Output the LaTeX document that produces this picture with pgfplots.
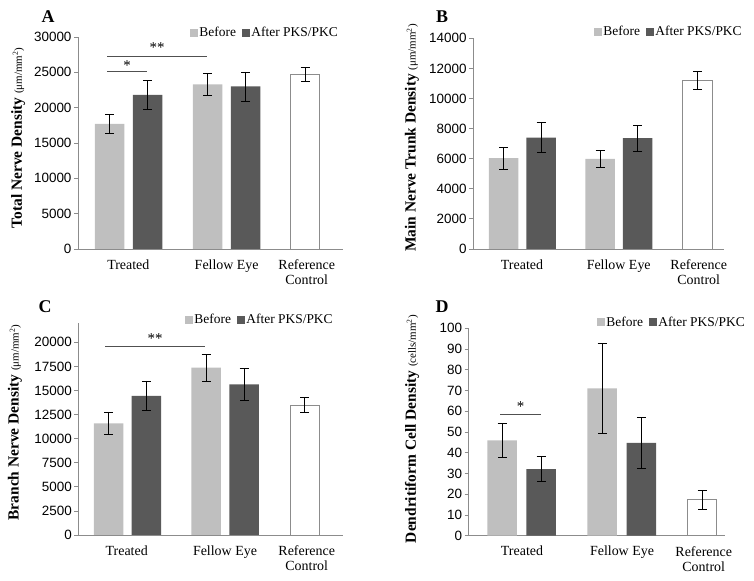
\documentclass[border=0pt]{standalone}
\usepackage{fontspec}
\setmainfont{Liberation Serif}
\newfontfamily\ticksans{Liberation Sans}
\usepackage{pgfplots}
\pgfplotsset{compat=1.18}
\definecolor{lightbar}{HTML}{BFBFBF}
\definecolor{darkbar}{HTML}{595959}
\definecolor{axisgray}{HTML}{8C8C8C}
\definecolor{refedge}{HTML}{8C8C8C}
\definecolor{sigline}{HTML}{505050}
\tikzset{sigstar/.style={font=\fontsize{15}{16}\selectfont}}

\pgfplotsset{
 panel/.style={
  scale only axis, anchor=south west,
  axis x line*=bottom, axis y line*=left,
  axis line style={axisgray, line width=0.8bp},
  xmin=0, ymin=0, clip=false,
  xtick style={draw=none},
  ytick style={axisgray, line width=0.8bp},
  tick align=outside, major tick length=4bp,
  yticklabel style={font=\fontsize{13.5}{15}\ticksans, xshift=1bp},
  xticklabel style={font=\fontsize{14}{15.5}\selectfont, align=center, yshift=-3bp},
  /pgf/number format/assume math mode=true,
  /pgf/number format/1000 sep={},
  scaled y ticks=false,
  xticklabels={Treated, Fellow Eye, Reference\\Control},
  legend style={draw=none, fill=none, inner sep=0pt, outer sep=0pt, anchor=west,
    font=\fontsize{13.5}{14}\selectfont, legend columns=2,
    /tikz/every even column/.append style={column sep=4bp},
    nodes={inner xsep=2bp, inner ysep=0pt}},
  legend cell align=left,
 },
 errs/.style={
   /pgfplots/error bars/y dir=both, /pgfplots/error bars/y explicit,
   /pgfplots/error bars/error bar style={black, line width=0.7bp},
   /pgfplots/error bars/error mark options={black, rotate=90, mark size=4.5bp, line width=0.7bp}},
 mybar/.style={ybar, bar width=29.5, bar shift=0pt, draw=none, fill=#1, errs, forget plot},
 refbar/.style={ybar, bar width=29.5, bar shift=0pt, draw=refedge, line width=0.8bp, fill=white, errs, forget plot},
 sig/.style={draw=sigline, line width=0.8bp, no marks, forget plot},
}
\newcommand{\legimgs}{%
 \addlegendimage{legend image code/.code={\fill[lightbar] (0bp,-3.5bp) rectangle (7bp,3.5bp);}}
 \addlegendentry{Before}
 \addlegendimage{legend image code/.code={\fill[darkbar] (0bp,-3.5bp) rectangle (7bp,3.5bp);}}
 \addlegendentry{After PKS/PKC}
}
\newcommand{\unitlab}[1]{{\mdseries\fontsize{11}{12}\selectfont (#1)}}

\begin{document}
\begin{tikzpicture}[x=1bp,y=1bp]
\path (0,0) rectangle (754,581);

% ---------------- Panel A ----------------
\begin{axis}[panel, at={(78bp,332bp)}, width=265bp, height=212bp,
  xmax=265, ymax=30000, ytick={0,5000,...,30000},
  xtick={50.3,148.7,228.7},
  ylabel={\fontsize{15.5}{16}\bfseries\selectfont Total Nerve Density \unitlab{μm/mm\textsuperscript{2}}},
  ylabel style={at={(axis description cs:-0.226,0.524)}, anchor=center},
  legend style={at={(axis description cs:0.423,1.019)}}]
\legimgs
\addplot[mybar=lightbar] coordinates {(31.5,17700) +- (0,1300) (129.5,23300) +- (0,1600)};
\addplot[mybar=darkbar] coordinates {(69.5,21800) +- (0,2100) (167.5,23000) +- (0,2050)};
\addplot[refbar] coordinates {(227,24700) +- (0,1000)};
\addplot[sig] coordinates {(29,25100) (69,25100)};
\addplot[sig] coordinates {(29,27300) (129,27300)};
\node[sigstar] at (axis cs:49,26000) {*};
\node[sigstar] at (axis cs:79,28500) {**};
\end{axis}
\node[font=\fontsize{18}{20}\bfseries\selectfont] at (48,564) {A};

% ---------------- Panel B ----------------
\begin{axis}[panel, at={(473bp,332bp)}, width=251bp, height=210.7bp,
  xmax=251, ymax=14000, ytick={0,2000,...,14000},
  xtick={49,145.7,225.7},
  ylabel={\fontsize{15.5}{16}\bfseries\selectfont Main Nerve Trunk Density \unitlab{μm/mm\textsuperscript{2}}},
  ylabel style={at={(axis description cs:-0.243,0.527)}, anchor=center},
  legend style={at={(axis description cs:0.482,1.03)}}]
\legimgs
\addplot[mybar=lightbar] coordinates {(30.7,6030) +- (0,730) (127,5980) +- (0,550)};
\addplot[mybar=darkbar] coordinates {(68,7400) +- (0,1000) (164.7,7370) +- (0,860)};
\addplot[refbar] coordinates {(224.5,11200) +- (0,600)};
\end{axis}
\node[font=\fontsize{18}{20}\bfseries\selectfont] at (442,564) {B};

% ---------------- Panel C ----------------
\begin{axis}[panel, at={(78.3bp,46bp)}, width=264.7bp, height=211.9bp,
  xmax=264.7, ymax=22000, ytick={0,2500,...,20000},
  xtick={48.4,146.7,228.4},
  ylabel={\fontsize{15.5}{16}\bfseries\selectfont Branch Nerve Density \unitlab{μm/mm\textsuperscript{2}}},
  ylabel style={at={(axis description cs:-0.239,0.531)}, anchor=center},
  legend style={at={(axis description cs:0.403,1.015)}}]
\legimgs
\addplot[mybar=lightbar] coordinates {(30.4,11600) +- (0,1180) (127.9,17370) +- (0,1400)};
\addplot[mybar=darkbar] coordinates {(68,14450) +- (0,1540) (165.9,15640) +- (0,1630)};
\addplot[refbar] coordinates {(226.4,13500) +- (0,800)};
\addplot[sig] coordinates {(26.7,19620) (126.7,19620)};
\node[sigstar] at (axis cs:76.7,20400) {**};
\end{axis}
\node[font=\fontsize{18}{20}\bfseries\selectfont] at (45,274) {C};

% ---------------- Panel D ----------------
\begin{axis}[panel, at={(468.7bp,45.3bp)}, width=256.7bp, height=207.4bp,
  xmax=256.7, ymax=100, ytick={0,10,...,100},
  xtick={53.3,153.3,235},
  ylabel={\fontsize{15.5}{16}\bfseries\selectfont Dendritiform Cell Density \unitlab{cells/mm\textsuperscript{2}}},
  ylabel style={at={(axis description cs:-0.221,0.514)}, anchor=center},
  legend style={at={(axis description cs:0.5,1.03)}}]
\legimgs
\addplot[mybar=lightbar] coordinates {(33.3,45.9) +- (0,8.3) (133.3,71) +- (0,21.8)};
\addplot[mybar=darkbar] coordinates {(72.3,32.1) +- (0,6.1) (172.6,44.7) +- (0,12.4)};
\addplot[refbar] coordinates {(233.3,17.4) +- (0,4.5)};
\addplot[sig] coordinates {(31.6,58.5) (72.3,58.5)};
\node[sigstar] at (axis cs:52,62) {*};
\end{axis}
\node[font=\fontsize{18}{20}\bfseries\selectfont] at (442,274) {D};
\end{tikzpicture}
\end{document}
